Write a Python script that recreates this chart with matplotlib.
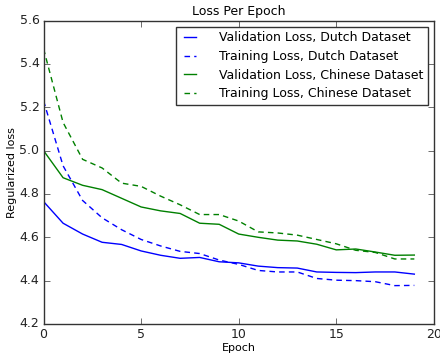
import matplotlib
matplotlib.use('Agg')
import matplotlib.pyplot as plt

epochs = list(range(20))

val_dutch = [4.765, 4.665, 4.615, 4.577, 4.567, 4.537, 4.517, 4.503, 4.507,
             4.487, 4.482, 4.467, 4.460, 4.458, 4.440, 4.438, 4.437, 4.440,
             4.440, 4.430]
train_dutch = [5.23, 4.93, 4.77, 4.69, 4.635, 4.59, 4.56, 4.535, 4.525,
               4.495, 4.475, 4.447, 4.440, 4.440, 4.410, 4.402, 4.400, 4.395,
               4.377, 4.378]
val_chinese = [5.00, 4.875, 4.84, 4.82, 4.78, 4.74, 4.722, 4.71, 4.665,
               4.66, 4.615, 4.60, 4.587, 4.583, 4.568, 4.542, 4.546, 4.532,
               4.517, 4.518]
train_chinese = [5.47, 5.13, 4.96, 4.92, 4.85, 4.835, 4.79, 4.75, 4.705,
                 4.705, 4.675, 4.625, 4.62, 4.61, 4.59, 4.57, 4.54, 4.53,
                 4.50, 4.50]

plt.style.use('classic')
plt.rcParams['font.family'] = 'DejaVu Sans'
plt.rcParams['axes.edgecolor'] = '#333333'
plt.rcParams['xtick.color'] = '#333333'
plt.rcParams['ytick.color'] = '#333333'

fig = plt.figure(figsize=(4.4, 3.56), dpi=100, facecolor='white')
ax = fig.add_axes([0.099, 0.09, 0.887, 0.852])

ax.plot(epochs, val_dutch, 'b-', linewidth=1, label='Validation Loss, Dutch Dataset')
ax.plot(epochs, train_dutch, 'b--', linewidth=1, dashes=(4, 3),
        label='Training Loss, Dutch Dataset')
ax.plot(epochs, val_chinese, 'g-', linewidth=1, label='Validation Loss, Chinese Dataset')
ax.plot(epochs, train_chinese, 'g--', linewidth=1, dashes=(4, 3),
        label='Training Loss, Chinese Dataset')

ax.set_xlim(0, 20)
ax.set_ylim(4.2, 5.6)
ax.set_xticks([0, 5, 10, 15, 20])
ax.set_yticks([4.2, 4.4, 4.6, 4.8, 5.0, 5.2, 5.4, 5.6])
ax.tick_params(labelsize=9, pad=3)
for lbl in ax.get_xticklabels() + ax.get_yticklabels():
    lbl.set_color('#222222')

ax.set_title('Loss Per Epoch', fontsize=9, pad=4)
ax.set_xlabel('Epoch', fontsize=8, labelpad=1)
ax.set_ylabel('Regularized loss', fontsize=8, labelpad=2)

leg = ax.legend(loc='upper right', fontsize=9, handlelength=1.6,
                borderpad=0.35, labelspacing=0.45, handletextpad=1.5,
                borderaxespad=0.5)
leg.get_frame().set_edgecolor('#333333')

fig.savefig('out.png', dpi=100, facecolor='white')
